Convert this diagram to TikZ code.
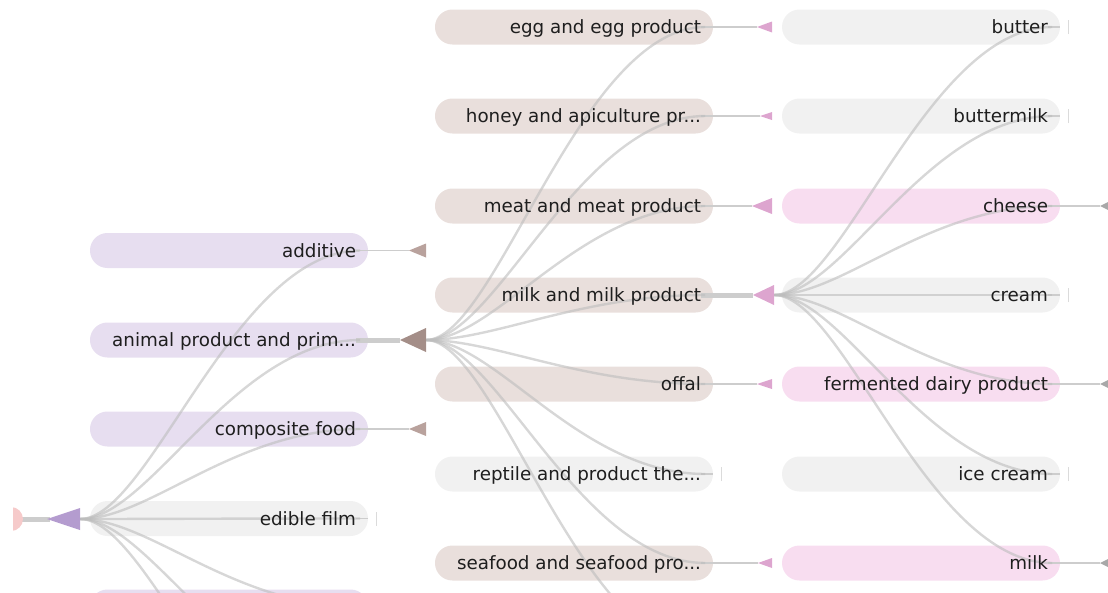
\documentclass[tikz,border=0pt]{standalone}
\usepackage{fontspec}
\setmainfont{DejaVu Sans}
\usetikzlibrary{calc}
\pgfdeclarelayer{bg}
\pgfdeclarelayer{lk}
\pgfsetlayers{bg,lk,main}
\definecolor{cAfill}{HTML}{E7DEF0}
\definecolor{cBfill}{HTML}{E9DFDC}
\definecolor{cCfill}{HTML}{F8DDF0}
\definecolor{leaffill}{HTML}{F1F1F1}
\definecolor{rootc}{HTML}{F6CACA}
\definecolor{triA}{HTML}{B49CCF}
\definecolor{triB}{HTML}{B9A29D}
\definecolor{triBd}{HTML}{A48E88}
\definecolor{triC}{HTML}{DDA5CF}
\definecolor{triD}{HTML}{A8A8A8}
\definecolor{linkc}{HTML}{BDBDBD}
\definecolor{stubc}{HTML}{CDCDCD}
\definecolor{txt}{HTML}{1E1E1E}
\tikzset{
  pill/.style={rectangle, rounded corners=17.4pt, minimum width=278pt, minimum height=35pt, inner sep=0pt, draw=none},
  lbl/.style={inner sep=0pt, text=txt, font=\fontsize{18.3}{21}\selectfont},
  lnk/.style={draw=linkc, line width=2.4pt, draw opacity=0.6},
  stub/.style={draw=stubc, line width=1.4pt},
  thickstub/.style={draw=stubc, line width=5pt},
  leaftick/.style={draw=black!14, line width=1.2pt},
}
% name, cx, cy, fill, text
\newcommand\tnode[5]{%
  \begin{pgfonlayer}{bg}\node[pill,fill=#4] (p-#1) at (#2,#3) {};\end{pgfonlayer}%
  \node[lbl,anchor=base east] (#1) at ([xshift=-12pt,yshift=-6.5pt]p-#1.east) {#5};%
  \coordinate (out-#1) at (p-#1.center -| #1.east);%
  \coordinate (in-#1) at ([xshift=-8pt]p-#1.east);}
% source, target
\newcommand\tlink[2]{%
  \begin{pgfonlayer}{lk}\draw[lnk] let \p1=(#1), \p2=(#2) in (\p1) .. controls ({\x1+0.25*(\x2-\x1)},\y1) and ({\x1+0.55*(\x2-\x1)},\y2) .. (\p2);\end{pgfonlayer}}
% name, base x, y, length, half height, colour
\newcommand\tri[6]{%
  \coordinate (#1) at (#2,#3);
  \coordinate (#1-tip) at ({#2-#4},#3);
  \fill[#6] (#1) ++(0,-#5) -- ++(0,{2*#5}) -- (#1-tip) -- cycle;}
% leaf marker
\newcommand\leaf[1]{%
  \begin{pgfonlayer}{lk}\draw[stub] (out-#1) -- (p-#1.east);\end{pgfonlayer}
  \draw[leaftick] ([xshift=8pt,yshift=-7pt]p-#1.east) -- ([xshift=8pt,yshift=7pt]p-#1.east);}
\begin{document}
\begin{tikzpicture}[x=1pt,y=-1pt]
\useasboundingbox (0,0) rectangle (1108,592);

% column 1
\tnode{additive}{229}{250.5}{cAfill}{additive}
\tnode{animal}{229}{340}{cAfill}{animal product and prim...}
\tnode{composite}{229}{429}{cAfill}{composite food}
\tnode{ediblefilm}{229}{518.5}{leaffill}{edible film}
\begin{pgfonlayer}{bg}\node[pill,fill=cAfill] (p-colAnext) at (229,607) {};\end{pgfonlayer}
\coordinate (in-colAnext) at ([xshift=-8pt]p-colAnext.east);
\coordinate (in-colAsix) at (360,696);
\coordinate (in-colAseven) at (360,786);

% column 2
\tnode{egg}{574}{27}{cBfill}{egg and egg product}
\tnode{honey}{574}{116}{cBfill}{honey and apiculture pr...}
\tnode{meat}{574}{206}{cBfill}{meat and meat product}
\tnode{milkprod}{574}{295}{cBfill}{milk and milk product}
\tnode{offal}{574}{384}{cBfill}{offal}
\tnode{reptile}{574}{474}{leaffill}{reptile and product the...}
\tnode{seafood}{574}{563}{cBfill}{seafood and seafood pro...}
\coordinate (in-colBnext) at (705,652);

% column 3
\tnode{butter}{921}{27}{leaffill}{butter}
\tnode{buttermilk}{921}{116}{leaffill}{buttermilk}
\tnode{cheese}{921}{206}{cCfill}{cheese}
\tnode{cream}{921}{295}{leaffill}{cream}
\tnode{fermented}{921}{384}{cCfill}{fermented dairy product}
\tnode{icecream}{921}{474}{leaffill}{ice cream}
\tnode{milk}{921}{563}{cCfill}{milk}

% root
\begin{pgfonlayer}{lk}\draw[thickstub] (13,519) -- (50,519);\end{pgfonlayer}
\begin{scope}
  \clip (13,500) rectangle (40,540);
  \node[circle, fill=rootc, minimum size=24pt, inner sep=0pt] (root) at (11,519) {};
\end{scope}

% triangles
\tri{rootT}{80}{519}{33}{11}{triA}
\tri{animalT}{426}{340}{26}{12}{triBd}
\tri{additiveT}{426}{250.5}{17}{7}{triB}
\tri{compositeT}{426}{429}{17}{7}{triB}
\tri{eggT}{772}{27}{15}{5.5}{triC}
\tri{honeyT}{772}{116}{12}{4}{triC}
\tri{meatT}{772}{206}{20}{8}{triC}
\tri{milkprodT}{774}{295}{21}{10}{triC}
\tri{offalT}{772}{384}{15}{5}{triC}
\tri{seafoodT}{772}{563}{14}{5}{triC}
\tri{cheeseT}{1114}{206}{14}{7}{triD}
\tri{fermentedT}{1114}{384}{14}{7}{triD}
\tri{milkT}{1114}{563}{14}{7}{triD}

% stubs to triangles
\begin{pgfonlayer}{lk}
\draw[stub] (out-additive) -- (additiveT-tip);
\draw[thickstub] (out-animal) -- (animalT-tip);
\draw[stub] (out-composite) -- (compositeT-tip);
\draw[stub] (out-egg) -- (eggT-tip);
\draw[stub] (out-honey) -- (honeyT-tip);
\draw[stub] (out-meat) -- (meatT-tip);
\draw[thickstub] (out-milkprod) -- (milkprodT-tip);
\draw[stub] (out-offal) -- (offalT-tip);
\draw[stub] (out-seafood) -- (seafoodT-tip);
\draw[stub] (out-cheese) -- (cheeseT-tip);
\draw[stub] (out-fermented) -- (fermentedT-tip);
\draw[stub] (out-milk) -- (milkT-tip);
\end{pgfonlayer}

% leaves
\leaf{ediblefilm}
\leaf{reptile}
\leaf{butter}
\leaf{buttermilk}
\leaf{cream}
\leaf{icecream}

% links root -> column 1
\tlink{rootT}{in-additive}
\tlink{rootT}{in-animal}
\tlink{rootT}{in-composite}
\tlink{rootT}{in-ediblefilm}
\tlink{rootT}{in-colAnext}
\tlink{rootT}{in-colAsix}
\tlink{rootT}{in-colAseven}

% links animal -> column 2
\tlink{animalT}{in-egg}
\tlink{animalT}{in-honey}
\tlink{animalT}{in-meat}
\tlink{animalT}{in-milkprod}
\tlink{animalT}{in-offal}
\tlink{animalT}{in-reptile}
\tlink{animalT}{in-seafood}
\tlink{animalT}{in-colBnext}

% links milk and milk product -> column 3
\tlink{milkprodT}{in-butter}
\tlink{milkprodT}{in-buttermilk}
\tlink{milkprodT}{in-cheese}
\tlink{milkprodT}{in-cream}
\tlink{milkprodT}{in-fermented}
\tlink{milkprodT}{in-icecream}
\tlink{milkprodT}{in-milk}
\end{tikzpicture}
\end{document}
